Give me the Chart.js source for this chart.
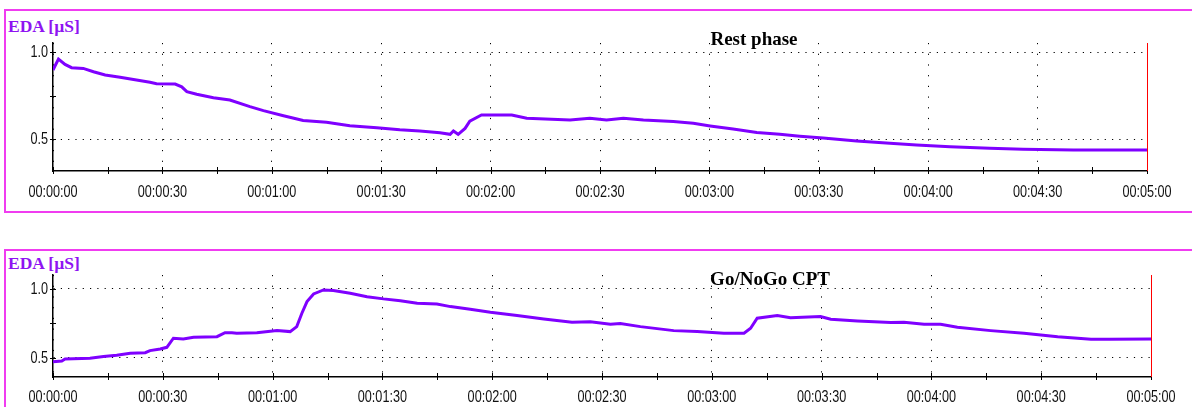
<!DOCTYPE html>
<html>
<head>
<meta charset="utf-8">
<script src="https://cdn.jsdelivr.net/npm/chart.js@4.4.0/dist/chart.umd.min.js"></script>
<style>
  body { margin: 0; background: #fff; width: 1192px; height: 407px; overflow: hidden; position: relative; }
  .panel { position: absolute; left: 4px; width: 1200px; border: 2px solid #f03cf0; box-sizing: border-box; }
  .eda { position: absolute; left: 8px; font: bold 17.5px 'Liberation Serif', 'Times New Roman', serif; color: #8f14f2; line-height: 20px; }
  canvas { position: absolute; left: 0; }
</style>
</head>
<body>
<div class="panel" style="top:9px;height:204px"></div>
<div class="panel" style="top:249px;height:200px"></div>
<div class="eda" style="top:16px">EDA [µS]</div>
<div class="eda" style="top:253px">EDA [µS]</div>
<canvas id="rest" width="1192" height="215" style="top:0"></canvas>
<canvas id="gonogo" width="1192" height="167" style="top:240px"></canvas>
<script>
// seconds from start, EDA in µS
const restTimes = [0, 1.5, 3.3, 5.1, 8.3, 11.1, 14.3, 18.4, 22.9, 26.6, 28.4, 33.5, 35.3, 36.7, 39.4, 44, 48.5, 54, 57.7, 63.2,
  68.6, 75, 81.4, 88.8, 95.1, 100.6, 106.1, 108.9, 109.8, 111.1, 113, 114.3, 117.5, 125.8, 129.9, 141.8, 147.2, 151.8, 156.4, 161.9,
  170.1, 175.6, 180.2, 186.5, 193, 199.3, 204.8, 211.2, 220.4, 229.5, 236.8, 246, 256.9, 266, 279.8, 300];
const restValues = [0.897, 0.96, 0.929, 0.91, 0.906, 0.887, 0.868, 0.855, 0.839, 0.826, 0.818, 0.816, 0.80, 0.772, 0.757, 0.737, 0.724, 0.686, 0.663, 0.634,
  0.607, 0.596, 0.576, 0.565, 0.553, 0.546, 0.536, 0.527, 0.546, 0.527, 0.561, 0.603, 0.638, 0.638, 0.619, 0.609, 0.619, 0.609, 0.619, 0.609,
  0.6, 0.59, 0.575, 0.557, 0.538, 0.527, 0.516, 0.506, 0.489, 0.475, 0.466, 0.456, 0.447, 0.441, 0.437, 0.437];

const goTimes = [0, 2.4, 3.3, 10.1, 13.8, 17.4, 21.1, 25.2, 26.5, 29.3, 31.1, 32.9, 35.6, 38.4, 44.8, 47, 48.9, 50.2, 55.7, 61.2,
  64.8, 66.6, 68, 69.4, 71.2, 73.9, 76.6, 81.2, 85.8, 90.3, 94.9, 99.5, 104.9, 108.6, 114, 119.5, 126.8, 134.1, 141.8, 146.8,
  152.3, 155, 160.5, 169.6, 176, 183.3, 188.8, 190.6, 192.4, 197.9, 201.5, 209.7, 212.5, 219.8, 228.9, 232.5, 238, 242.5, 247.1, 256.2,
  265.3, 274.5, 283.6, 288.6, 300];
const goValues = [0.473, 0.478, 0.493, 0.498, 0.51, 0.52, 0.534, 0.538, 0.553, 0.565, 0.577, 0.643, 0.638, 0.65, 0.654, 0.683, 0.683, 0.679, 0.683, 0.698,
  0.691, 0.727, 0.824, 0.908, 0.964, 0.993, 0.988, 0.969, 0.944, 0.928, 0.915, 0.896, 0.891, 0.872, 0.853, 0.831, 0.807, 0.783, 0.758, 0.763,
  0.744, 0.75, 0.727, 0.698, 0.691, 0.679, 0.679, 0.715, 0.788, 0.807, 0.792, 0.8, 0.78, 0.768, 0.756, 0.758, 0.744, 0.744, 0.722, 0.698,
  0.679, 0.654, 0.635, 0.635, 0.638];

const yTickValues = [0.5, 1.0];
const yMarks = [0.5, 0.75, 1.0];

const labelFont = "16px 'Liberation Sans', Arial, sans-serif";

function fmt(sec) {
  const m = Math.floor(sec / 60), s = sec % 60;
  return '00:' + String(m).padStart(2, '0') + ':' + String(s).padStart(2, '0');
}

// narrow tick labels, tick marks crossing the axes, red end marker and panel title
const panelPlugin = {
  id: 'panel',
  afterDraw(chart, args, opts) {
    const { ctx, chartArea: a, scales: { x, y } } = chart;
    ctx.save();
    ctx.strokeStyle = '#000';
    ctx.lineWidth = 1;
    ctx.beginPath();
    for (let t = 0; t <= 300; t += 15) {
      const px = Math.round(x.getPixelForValue(t)) + 0.5;
      ctx.moveTo(px, a.bottom - 4);
      ctx.lineTo(px, a.bottom + 3);
    }
    yMarks.forEach(v => {
      const py = Math.round(y.getPixelForValue(v)) + 0.5;
      ctx.moveTo(a.left - 3, py);
      ctx.lineTo(a.left + 3, py);
    });
    ctx.stroke();

    ctx.strokeStyle = '#ff0000';
    ctx.beginPath();
    ctx.moveTo(Math.round(a.right) + 0.5, a.top);
    ctx.lineTo(Math.round(a.right) + 0.5, a.bottom);
    ctx.stroke();

    ctx.font = labelFont;
    ctx.fillStyle = '#111';
    ctx.textBaseline = 'middle';
    ctx.textAlign = 'center';
    x.ticks.forEach(tk => {
      ctx.save();
      ctx.translate(x.getPixelForValue(tk.value), a.bottom + opts.ly);
      ctx.scale(0.79, 1);
      ctx.fillText(fmt(tk.value), 0, 0);
      ctx.restore();
    });
    ctx.textAlign = 'right';
    y.ticks.forEach(tk => {
      ctx.save();
      ctx.translate(a.left - 5, y.getPixelForValue(tk.value) + 1);
      ctx.scale(0.79, 1);
      ctx.fillText(tk.value.toFixed(1), 0, 0);
      ctx.restore();
    });

    ctx.font = "bold 19px 'Liberation Serif', 'Times New Roman', serif";
    ctx.fillStyle = '#000';
    ctx.textAlign = 'center';
    ctx.fillText(opts.title, opts.tx, opts.ty);
    ctx.restore();
  }
};

function makeChart(id, times, values, o) {
  return new Chart(document.getElementById(id), {
    type: 'line',
    data: {
      datasets: [{
        data: times.map((t, i) => ({ x: t, y: values[i] })),
        borderColor: '#7f00ff',
        borderWidth: 3,
        pointRadius: 0,
        tension: 0
      }]
    },
    options: {
      responsive: false,
      animation: false,
      devicePixelRatio: 1,
      layout: { padding: { left: 0, right: o.right, top: o.top, bottom: 0 } },
      plugins: {
        legend: { display: false },
        tooltip: { enabled: false },
        panel: { title: o.title, tx: o.tx, ty: o.ty, ly: o.ly }
      },
      scales: {
        x: {
          type: 'linear',
          min: 0,
          max: 300,
          afterFit: s => { s.height = o.xh; },
          ticks: { stepSize: 30, autoSkip: false, display: false },
          grid: { color: '#000', lineWidth: 1, drawTicks: false },
          border: { color: '#000', width: 1.5, dash: [1.2, 9.5] }
        },
        y: {
          min: o.ymin,
          max: o.ymax,
          afterFit: s => { s.width = 53; },
          afterBuildTicks: s => { s.ticks = yTickValues.map(v => ({ value: v })); },
          ticks: { display: false },
          grid: { color: '#000', lineWidth: 1, drawTicks: false },
          border: { color: '#000', width: 1.5, dash: [1.2, 6.1] }
        }
      }
    },
    plugins: [panelPlugin]
  });
}

makeChart('rest', restTimes, restValues, {
  title: 'Rest phase', tx: 754, ty: 40, ly: 22,
  top: 43, right: 45, xh: 44, ymin: 0.316, ymax: 1.052
});
makeChart('gonogo', goTimes, goValues, {
  title: 'Go/NoGo CPT', tx: 770, ty: 40, ly: 21,
  top: 35, right: 41, xh: 30, ymin: 0.362, ymax: 1.101
});
</script>
</body>
</html>
